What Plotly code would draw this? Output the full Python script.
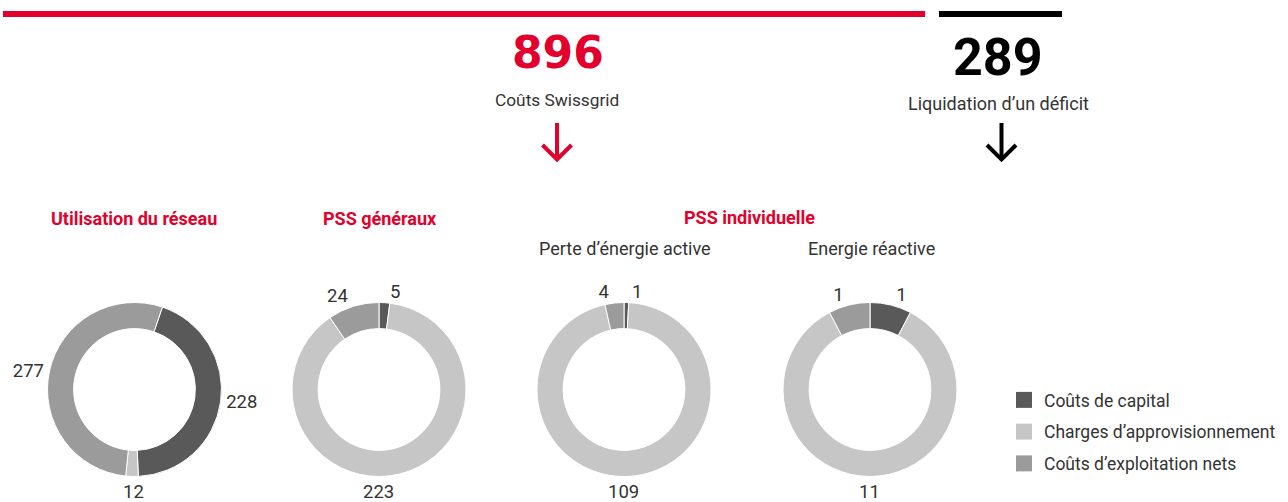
import plotly.graph_objects as go

W, H = 1288, 502

# ---------------- data ----------------
categories = ["Coûts de capital", "Charges d’approvisionnement", "Coûts d’exploitation nets"]
colors = ["#595959", "#c6c6c6", "#9b9b9b"]

reseau_values = [228, 12, 277]          # Utilisation du réseau
pss_generaux_values = [5, 223, 24]      # PSS généraux
perte_active_values = [1, 109, 4]       # PSS individuelle – Perte d'énergie active
energie_reactive_values = [1, 11, 1]    # PSS individuelle – Energie réactive

total_swissgrid = 896
total_deficit = 289

RED = "#e3002c"
TXT = "#333333"
FONT = "Roboto"
LABEL_SIZE = 18.5


def px(x):
    return x / W


def py(y):
    return 1 - y / H


fig = go.Figure()

donuts = [
    (reseau_values, 134.5, 18.7),
    (pss_generaux_values, 379, 0),
    (perte_active_values, 624, 0),
    (energie_reactive_values, 870, 0),
]
CY, R = 389.5, 87

annotations = []

for vals, cx, rot in donuts:
    # the slice at the bottom of each ring (Charges d'approvisionnement)
    # gets its value centred under the ring; the others are outside labels
    texts = [str(v) for v in vals]
    bottom_label = texts[1]
    texts[1] = ""
    fig.add_trace(go.Pie(
        values=vals,
        labels=categories,
        text=texts,
        textinfo="text",
        textposition="outside",
        outsidetextfont=dict(family=FONT, size=LABEL_SIZE, color=TXT),
        hole=0.70,
        sort=False,
        direction="clockwise",
        rotation=rot,
        marker=dict(colors=colors, line=dict(color="white", width=1)),
        domain=dict(x=[px(cx - R), px(cx + R)], y=[py(CY + R), py(CY - R)]),
        showlegend=False,
        hoverinfo="label+value",
    ))
    annotations.append(dict(text=bottom_label, x=px(cx - 1), y=py(CY + R + 15.5),
                            font=dict(size=LABEL_SIZE, color=TXT)))

# legend entries
for cat, col in zip(categories, colors):
    fig.add_trace(go.Scatter(
        x=[None], y=[None], mode="markers",
        marker=dict(symbol="square", size=16, color=col),
        name=cat, legendgroup=cat, showlegend=True,
    ))

annotations += [
    dict(text=f"<b>{total_swissgrid}</b>", x=px(558), y=py(52.5),
         font=dict(size=44, color=RED, family="DejaVu Sans")),
    dict(text="Coûts Swissgrid", x=px(557), y=py(100), font=dict(size=17.3, color=TXT)),
    dict(text=f"<b>{total_deficit}</b>", x=px(998), y=py(57), font=dict(size=52, color="#000000")),
    dict(text="Liquidation d’un déficit", x=px(998.5), y=py(103), font=dict(size=18, color=TXT)),
    dict(text="<b>Utilisation du réseau</b>", x=px(134), y=py(218), font=dict(size=18, color=RED)),
    dict(text="<b>PSS généraux</b>", x=px(379.5), y=py(218), font=dict(size=18, color=RED)),
    dict(text="<b>PSS individuelle</b>", x=px(749), y=py(217), font=dict(size=18, color=RED)),
    dict(text="Perte d’énergie active", x=px(625), y=py(248), font=dict(size=18, color=TXT)),
    dict(text="Energie réactive", x=px(872), y=py(248), font=dict(size=18, color=TXT)),
]
for a in annotations:
    a.update(xref="paper", yref="paper", showarrow=False, xanchor="center", yanchor="middle")
    a["font"].setdefault("family", FONT)

shapes = [
    # top bars
    dict(type="rect", x0=px(3), x1=px(925), y0=py(17), y1=py(11), fillcolor=RED, line=dict(width=0)),
    dict(type="rect", x0=px(939), x1=px(1062), y0=py(17), y1=py(11), fillcolor="#000000", line=dict(width=0)),
]


def arrow(x, color):
    return [
        dict(type="line", x0=px(x), x1=px(x), y0=py(123), y1=py(160),
             line=dict(color=color, width=4)),
        dict(type="path",
             path=f"M {px(x - 14.5)},{py(145)} L {px(x)},{py(159.5)} L {px(x + 14.5)},{py(145)}",
             line=dict(color=color, width=4)),
    ]


shapes += arrow(557, RED)
shapes += arrow(1001.5, "#000000")
for s in shapes:
    s.update(xref="paper", yref="paper")

fig.update_layout(
    width=W, height=H,
    margin=dict(l=0, r=0, t=0, b=0, autoexpand=False),
    paper_bgcolor="white", plot_bgcolor="white",
    font=dict(family=FONT, color=TXT),
    xaxis=dict(visible=False), yaxis=dict(visible=False),
    annotations=annotations,
    shapes=shapes,
    legend=dict(x=px(1004), y=py(382), xanchor="left", yanchor="top",
                font=dict(family=FONT, size=17.5, color=TXT),
                tracegroupgap=6, bgcolor="rgba(0,0,0,0)", itemwidth=30),
)

fig.write_html("out.html", config={"displayModeBar": False},
               post_script="document.body.style.margin='0px';")
